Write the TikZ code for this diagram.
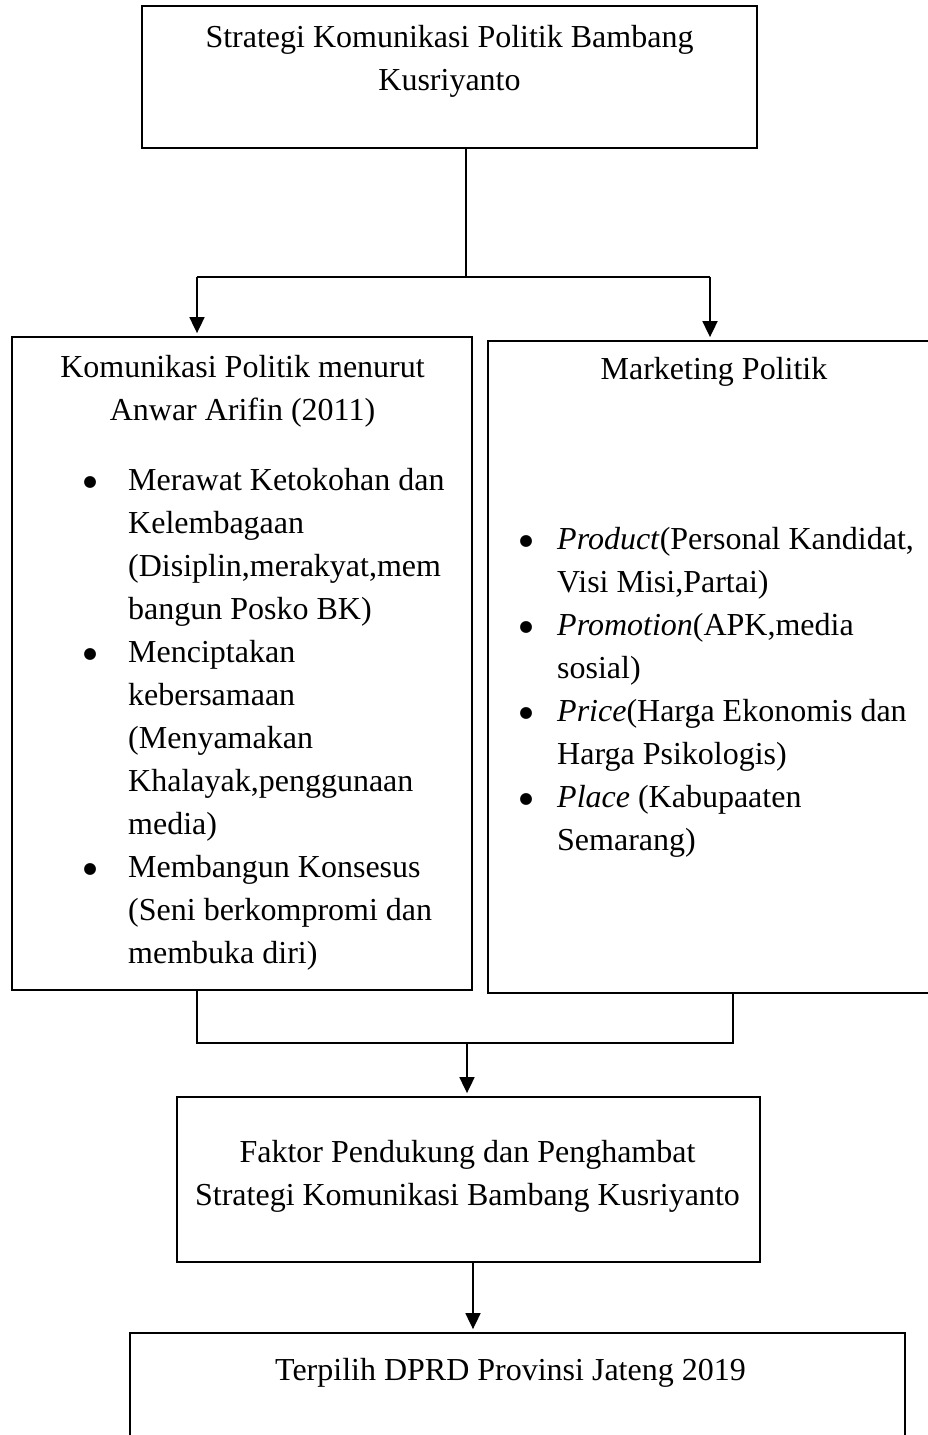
\documentclass[tikz,border=0pt]{standalone}
\usepackage{fontspec}
\setmainfont{Liberation Serif}
\newfontfamily\simbol{DejaVu Sans}
\usetikzlibrary{arrows.meta}
\tikzset{
    kotak/.style={draw, line width=1.8pt, inner sep=0pt},
    teks/.style={font=\fontsize{32}{43}\selectfont, inner sep=0pt, align=center, anchor=north},
    daftar/.style={font=\fontsize{32}{43}\selectfont, inner sep=0pt, anchor=north west},
    garis/.style={line width=1.8pt},
    panah/.style={line width=1.8pt, -{Triangle[length=16pt,width=15pt]}, shorten >=3pt}
}
\newcommand{\butir}[1]{\makebox[#1]{\raisebox{4pt}{\simbol\fontsize{15.5}{15.5}\selectfont ●}}}

\begin{document}
\begin{tikzpicture}[x=1pt,y=-1pt]
            \useasboundingbox (0,0) rectangle (928,1435);
            \clip (0,0) rectangle (928,1435);
            % kotak-kotak
            \node[kotak, minimum width=615pt, minimum height=142pt] (strategi)   at (449.5,  77.0) {};
            \node[kotak, minimum width=460pt, minimum height=653pt] (komunikasi) at (242.0, 663.5) {};
            \node[kotak, minimum width=477pt, minimum height=652pt] (marketing)  at (726.5, 667.0) {};
            \node[kotak, minimum width=583pt, minimum height=165pt] (faktor)     at (468.5,1179.5) {};
            \node[kotak, minimum width=775pt, minimum height=147pt] (terpilih)   at (517.5,1406.5) {};
            % teks
            \node[teks] (judul)     at (449.5,  17) {\strut Strategi Komunikasi Politik Bambang\\Kusriyanto};
            \node[teks] (judulkiri) at (242.5, 347) {\strut Komunikasi Politik menurut\\Anwar Arifin (2011)};
            \node[teks] (judulkanan) at (714.0, 349) {\strut Marketing Politik};
            \node[daftar] (daftarkiri) at (52, 460) {%
                \begin{tabular}{@{}c@{}l@{}}
                    \butir{76pt} & Merawat Ketokohan dan \\
                                 & Kelembagaan \\
                                 & (Disiplin,merakyat,mem \\
                                 & bangun Posko BK) \\
                    \butir{76pt} & Menciptakan \\
                                 & kebersamaan \\
                                 & (Menyamakan \\
                                 & Khalayak,penggunaan \\
                                 & media) \\
                    \butir{76pt} & Membangun Konsesus \\
                                 & (Seni berkompromi dan \\
                                 & membuka diri)
                \end{tabular}};
            \node[daftar] (daftarkanan) at (495, 519) {%
                \begin{tabular}{@{}c@{}l@{}}
                    \butir{62pt} & \textit{Product}(Personal Kandidat, \\
                                 & Visi Misi,Partai) \\
                    \butir{62pt} & \textit{Promotion}(APK,media \\
                                 & sosial) \\
                    \butir{62pt} & \textit{Price}(Harga Ekonomis dan \\
                                 & Harga Psikologis) \\
                    \butir{62pt} & \textit{Place} (Kabupaaten \\
                                 & Semarang)
                \end{tabular}};
            \node[teks] (judulfaktor)   at (467.5,1132) {\strut Faktor Pendukung dan Penghambat\\Strategi Komunikasi Bambang Kusriyanto};
            \node[teks] (judulterpilih) at (510.5,1350) {\strut Terpilih DPRD Provinsi Jateng 2019};
            % garis penghubung
            \coordinate (cabang)       at (466, 277);
            \coordinate (cabangkiri)   at (197, 277);
            \coordinate (cabangkanan)  at (710, 277);
            \coordinate (gabung)       at (467,1043);
            \coordinate (gabungkiri)   at (197,1043);
            \coordinate (gabungkanan)  at (733,1043);
            \draw[garis] (strategi.south -| cabang) -- (cabang);
            \draw[garis] (cabangkiri) -- (cabangkanan);
            \draw[panah] (cabangkiri)  -- (cabangkiri |- komunikasi.north);
            \draw[panah] (cabangkanan) -- (cabangkanan |- marketing.north);
            \draw[garis] (komunikasi.south -| gabungkiri) -- (gabungkiri) -- (gabungkanan) -- (marketing.south -| gabungkanan);
            \draw[panah] (gabung) -- (gabung |- faktor.north);
            \draw[panah] ([xshift=4.5pt]faktor.south) -- ([xshift=4.5pt]faktor.south |- terpilih.north);
        \end{tikzpicture}
\end{document}
